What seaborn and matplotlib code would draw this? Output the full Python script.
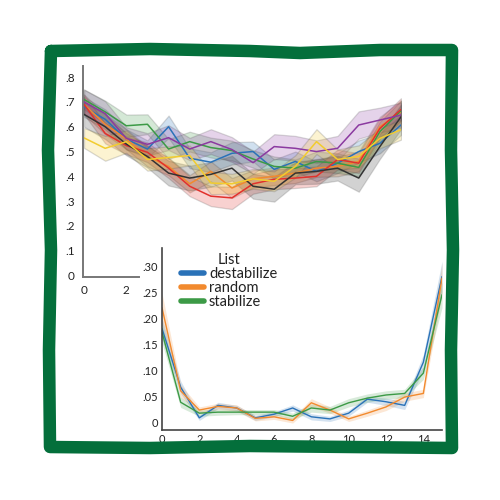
import numpy as np
import pandas as pd
import matplotlib
matplotlib.use("Agg")
import matplotlib.pyplot as plt
from matplotlib.lines import Line2D
import seaborn as sns

# ---- top chart: 7 series, mean per step and half-width of the band ----
steps = list(range(16))
top_names = ["blue", "orange", "green", "red", "purple", "black", "yellow"]
top_colors = ["#2a72b8", "#f28a2e", "#3c9a46", "#e2312c", "#8b3aa0", "#333333", "#f2cc2e"]

top_blue = [.68, .63, .55, .51, .60, .473, .457, .493, .50, .428, .46, .42, .453, .50, .533, .607]
top_orange = [.69, .61, .55, .48, .44, .37, .42, .353, .39, .40, .413, .433, .44, .46, .60, .66]
top_green = [.71, .66, .604, .61, .51, .54, .516, .504, .47, .44, .433, .46, .453, .436, .58, .665]
top_red = [.69, .573, .524, .497, .433, .36, .32, .313, .37, .388, .393, .40, .468, .453, .593, .67]
top_purple = [.70, .653, .553, .529, .556, .51, .54, .508, .455, .52, .513, .50, .513, .607, .627, .647]
top_black = [.65, .60, .53, .48, .413, .393, .408, .433, .36, .348, .413, .42, .433, .393, .52, .64]
top_yellow = [.555, .513, .54, .468, .476, .484, .373, .37, .39, .38, .44, .54, .468, .48, .553, .588]

top_hw_blue = [.04, .04, .04, .035, .045, .04, .04, .045, .04, .04, .04, .04, .04, .045, .04, .04]
top_hw_orange = [.04, .04, .04, .04, .035, .035, .04, .04, .035, .035, .04, .035, .04, .04, .04, .045]
top_hw_green = [.04, .045, .045, .04, .04, .04, .04, .04, .035, .04, .035, .04, .04, .035, .04, .04]
top_hw_red = [.04, .04, .035, .04, .04, .04, .04, .045, .04, .04, .04, .04, .04, .04, .04, .045]
top_hw_purple = [.05, .05, .045, .045, .05, .045, .05, .05, .045, .05, .05, .045, .05, .055, .05, .05]
top_hw_black = [.05, .05, .045, .045, .05, .05, .05, .05, .05, .05, .045, .05, .05, .055, .05, .05]
top_hw_yellow = [.04, .05, .045, .045, .045, .04, .045, .04, .04, .04, .045, .05, .04, .045, .04, .04]

top_means = [top_blue, top_orange, top_green, top_red, top_purple, top_black, top_yellow]
top_hws = [top_hw_blue, top_hw_orange, top_hw_green, top_hw_red, top_hw_purple, top_hw_black, top_hw_yellow]
top_yticks = [0, .1, .2, .3, .4, .5, .6, .7, .8]
top_yticklabels = ["0", ".1", ".2", ".3", ".4", ".5", ".6", ".7", ".8"]

# ---- inset chart: List ----
list_names = ["destabilize", "random", "stabilize"]
list_colors = ["#2a72b8", "#f28a2e", "#3c9a46"]
destabilize = [.18, .067, .008, .032, .027, .008, .015, .027, .01, .006, .017, .044, .039, .032, .115, .28]
random_ = [.22, .06, .023, .03, .027, .007, .01, .003, .037, .023, .006, .017, .029, .048, .055, .277]
stabilize = [.173, .038, .017, .019, .019, .019, .019, .011, .027, .023, .037, .046, .052, .055, .094, .245]
hw_destabilize = [.02, .012, .005, .006, .005, .005, .005, .006, .006, .005, .006, .006, .007, .008, .015, .03]
hw_random = [.028, .012, .006, .006, .006, .005, .005, .005, .008, .006, .005, .006, .007, .008, .008, .03]
hw_stabilize = [.02, .01, .006, .006, .005, .005, .005, .006, .008, .007, .008, .008, .008, .008, .012, .025]
inset_yticks = [0, .05, .10, .15, .20, .25, .30]
inset_yticklabels = ["0", ".05", ".10", ".15", ".20", ".25", ".30"]
inset_xticks = [0, 2, 4, 6, 8, 10, 12, 14]


def long_frame(names, means, hws, key):
    # two observations per step (mean - hw, mean + hw) -> min/max band
    rows = []
    for name, m, h in zip(names, means, hws):
        for s, mv, hv in zip(steps, m, h):
            rows.append({key: name, "step": s, "value": mv - hv})
            rows.append({key: name, "step": s, "value": mv + hv})
    return pd.DataFrame(rows)


sns.set_style("white")
plt.rcParams["font.family"] = ["Lato", "DejaVu Sans"]

fig = plt.figure(figsize=(5, 5), dpi=100)

# top chart
ax = fig.add_axes([0.166, 0.446, 0.636, 0.422])
top_df = long_frame(top_names, top_means, top_hws, "series")
sns.lineplot(data=top_df, x="step", y="value", hue="series", palette=top_colors,
             errorbar=("pi", 100), linewidth=1.1, legend=False, ax=ax,
             err_kws={"alpha": 0.22, "edgecolor": "#555555", "linewidth": 0.9})
ax.set_xlim(-0.05, 15)
ax.set_ylim(-0.006, 0.845)
ax.set_yticks(top_yticks, top_yticklabels)
ax.set_xticks([0, 2], ["0", "2"])
ax.set_xlabel("")
ax.set_ylabel("")
for side in ["top", "right"]:
    ax.spines[side].set_visible(False)
ax.spines["bottom"].set_bounds(-0.05, 2.6)
for side in ["left", "bottom"]:
    ax.spines[side].set_color("#777777")
    ax.spines[side].set_linewidth(1.4)
ax.tick_params(length=0, labelsize=8.5, labelcolor="#222222", pad=6)
ax.patch.set_alpha(0)

# inset chart
ax2 = fig.add_axes([0.324, 0.14, 0.56, 0.364])
list_df = long_frame(list_names, [destabilize, random_, stabilize],
                     [hw_destabilize, hw_random, hw_stabilize], "List")
sns.lineplot(data=list_df, x="step", y="value", hue="List", palette=list_colors,
             errorbar=("pi", 100), linewidth=1.0, ax=ax2,
             err_kws={"alpha": 0.2, "linewidth": 0})
ax2.set_xlim(0, 15)
ax2.set_ylim(-0.0154, 0.335)
ax2.set_yticks(inset_yticks, inset_yticklabels)
ax2.set_xticks(inset_xticks, [str(t) for t in inset_xticks])
ax2.set_xlabel("")
ax2.set_ylabel("")
for side in ["top", "right"]:
    ax2.spines[side].set_visible(False)
for side in ["left", "bottom"]:
    ax2.spines[side].set_color("#444444")
    ax2.spines[side].set_linewidth(1.2)
ax2.tick_params(length=0, labelsize=8, labelcolor="#222222", pad=3)
ax2.patch.set_alpha(0)

handles = [Line2D([0], [0], color=c, lw=4, solid_capstyle="round") for c in list_colors]
leg = ax2.legend(handles, list_names, title="List", loc="upper left",
                 bbox_to_anchor=(0.03, 1.03), frameon=False, fontsize=10.5,
                 title_fontsize=10.5, handlelength=1.6, handletextpad=0.35,
                 labelspacing=0.0, borderpad=0.2)
for t in leg.get_texts():
    t.set_color("#222222")
leg.get_title().set_color("#222222")

# hand drawn green frame
frame_px = [(51, 51), (150, 49), (250, 51), (300, 53), (380, 50), (452, 50),
            (451, 150), (453, 250), (451, 350), (452, 448),
            (350, 447), (250, 446), (150, 448), (50, 447),
            (49, 350), (51, 250), (48, 150), (51, 51)]
fx = [p[0] / 500 for p in frame_px]
fy = [1 - p[1] / 500 for p in frame_px]
fig.add_artist(Line2D(fx, fy, transform=fig.transFigure, color="#046f3b",
                      lw=9, solid_joinstyle="round", solid_capstyle="round"))

fig.savefig("out.png", dpi=100)
